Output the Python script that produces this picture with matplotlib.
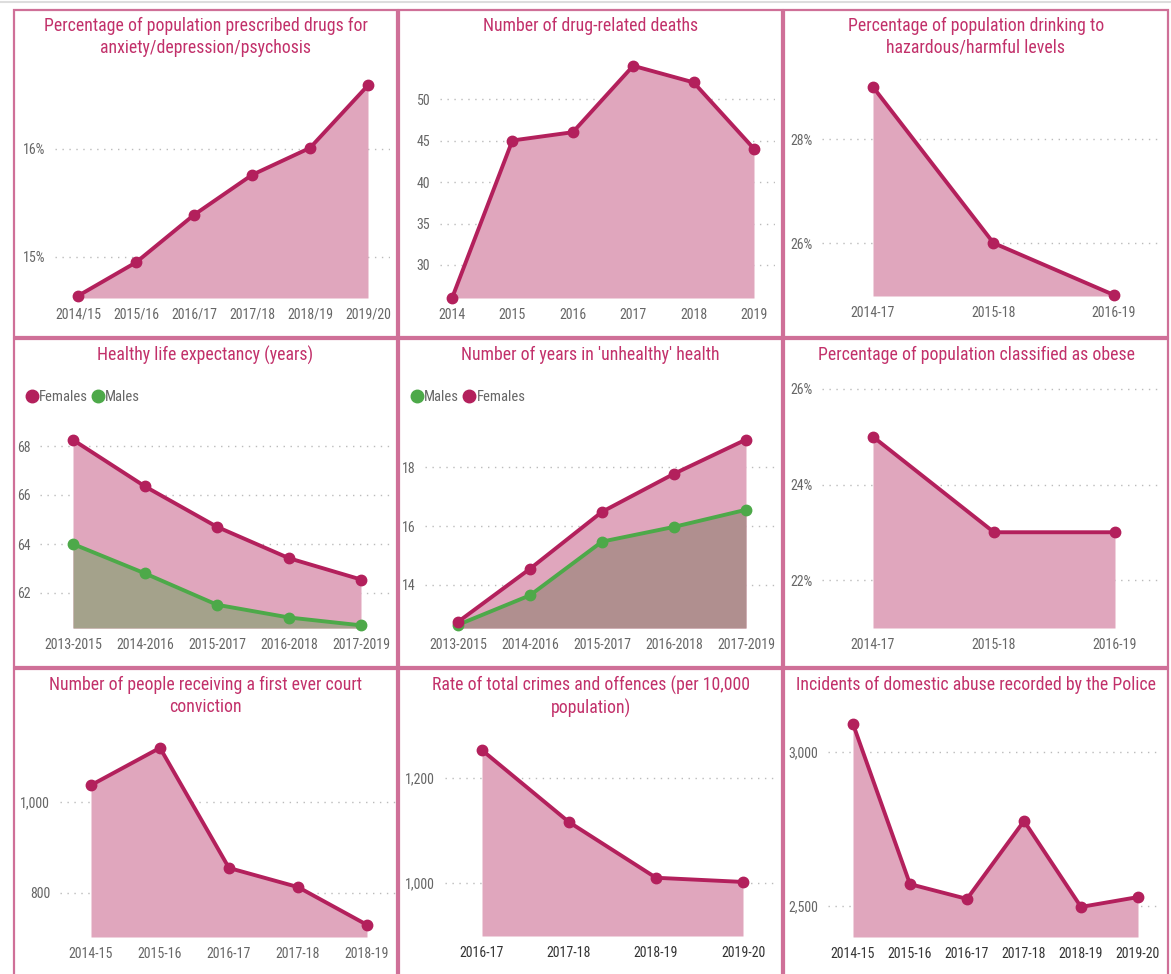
import matplotlib
matplotlib.use("Agg")
import matplotlib.pyplot as plt
from matplotlib import font_manager
from matplotlib.lines import Line2D
from matplotlib.patches import Rectangle

# ---- data ----
drugs_years = ["2014/15", "2015/16", "2016/17", "2017/18", "2018/19", "2019/20"]
drugs_pct = [14.64, 14.95, 15.39, 15.76, 16.01, 16.59]

deaths_years = ["2014", "2015", "2016", "2017", "2018", "2019"]
deaths = [26, 45, 46, 54, 52, 44]

drink_years = ["2014-17", "2015-18", "2016-19"]
drink_pct = [29.0, 26.0, 25.0]

hle_years = ["2013-2015", "2014-2016", "2015-2017", "2016-2018", "2017-2019"]
hle_females = [68.25, 66.35, 64.7, 63.42, 62.55]
hle_males = [64.0, 62.8, 61.52, 61.0, 60.68]

unhealthy_years = ["2013-2015", "2014-2016", "2015-2017", "2016-2018", "2017-2019"]
unhealthy_males = [12.65, 13.65, 15.47, 15.97, 16.55]
unhealthy_females = [12.75, 14.55, 16.48, 17.77, 18.93]

obese_years = ["2014-17", "2015-18", "2016-19"]
obese_pct = [25.0, 23.0, 23.0]

court_years = ["2014-15", "2015-16", "2016-17", "2017-18", "2018-19"]
court = [1037, 1119, 855, 813, 730]

crime_years = ["2016-17", "2017-18", "2018-19", "2019-20"]
crime_rate = [1253, 1116, 1010, 1002]

abuse_years = ["2014-15", "2015-16", "2016-17", "2017-18", "2018-19", "2019-20"]
abuse = [3091, 2571, 2523, 2776, 2497, 2529]

W, H = 1171, 974
LINE = "#B3205C"
FILL = "#E0A6BD"
GREEN = "#4DA949"
TITLE = "#C2306A"
BORDER = "#CF7098"
TICK = "#666666"

# look for a narrow face, the dashboard uses a condensed DIN-like font
narrow = None
for f in font_manager.fontManager.ttflist:
    low = f.fname.lower()
    if ("condensed" in low or "narrow" in low) and f.style == "normal" \
            and not any(w in low for w in ("bold", "light", "thin", "black", "extra", "semi", "medium", "italic")):
        if narrow is None or "roboto" in low or "liberation" in low:
            narrow = f.fname
if narrow:
    fp = font_manager.FontProperties(fname=narrow)
    title_size, tick_size, leg_size = 12.8, 10, 10.5
else:
    fp = font_manager.FontProperties(family="Roboto")
    title_size, tick_size, leg_size = 11.3, 9.2, 9.5

fig = plt.figure(figsize=(W / 100, H / 100), dpi=100)
fig.patch.set_facecolor("white")


def fx(x):
    return x / W


def fy(y):
    return 1 - y / H


def make_ax(box, xfirst, xlast, n, yref, yticks, fmt):
    x0, x1, yt, yb = box
    ax = fig.add_axes([fx(x0), fy(yb), (x1 - x0) / W, (yb - yt) / H])
    step = (xlast - xfirst) / (n - 1)
    ax.set_xlim(-(xfirst - x0) / step, (n - 1) + (x1 - xlast) / step)
    (p1, v1), (p2, v2) = yref
    k = (v1 - v2) / (p2 - p1)
    ax.set_ylim(v2 - (yb - p2) * k, v1 + (p1 - yt) * k)
    ax.set_yticks(yticks)
    ax.set_yticklabels([fmt(v) for v in yticks])
    for s in ax.spines.values():
        s.set_visible(False)
    ax.tick_params(length=0, labelcolor=TICK, pad=7)
    ax.grid(axis="y", linestyle=(0, (1, 4)), color="#BBBBBB", linewidth=1)
    ax.set_axisbelow(True)
    ax.patch.set_alpha(0)
    return ax


def area(ax, labels, values, line=LINE, fill=FILL):
    x = list(range(len(labels)))
    ax.fill_between(x, values, ax.get_ylim()[0], color=fill, linewidth=0, zorder=1)
    ax.plot(x, values, color=line, lw=2.8, marker="o", ms=7.5, zorder=3,
            solid_joinstyle="round", clip_on=False)
    ax.set_xticks(x)
    ax.set_xticklabels(labels)
    for t in ax.get_xticklabels() + ax.get_yticklabels():
        t.set_fontproperties(fp)
        t.set_fontsize(tick_size)


pct = lambda v: "%d%%" % v
num = lambda v: "{:,}".format(int(v))

# panel borders
cols = [(14, 397), (399, 782), (784, 1168)]
rows = [(10, 337), (339, 667), (669, 990)]
for (cx0, cx1) in cols:
    for (ry0, ry1) in rows:
        fig.add_artist(Rectangle((fx(cx0), fy(ry1)), (cx1 - cx0) / W, (ry1 - ry0) / H,
                                 transform=fig.transFigure, fill=False,
                                 edgecolor=BORDER, linewidth=1.6))
fig.add_artist(Line2D([0, 1], [fy(2), fy(2)], transform=fig.transFigure,
                      color="#DDDDDD", linewidth=1.5))


def title(col, y, text):
    cx = (cols[col][0] + cols[col][1]) / 2
    fig.text(fx(cx), fy(y), text, ha="center", va="top", color=TITLE,
             fontproperties=fp, fontsize=title_size, linespacing=1.25)


title(0, 17, "Percentage of population prescribed drugs for\nanxiety/depression/psychosis")
title(1, 17, "Number of drug-related deaths")
title(2, 17, "Percentage of population drinking to\nhazardous/harmful levels")
title(0, 346, "Healthy life expectancy (years)")
title(1, 346, "Number of years in 'unhealthy' health")
title(2, 346, "Percentage of population classified as obese")
title(0, 676, "Number of people receiving a first ever court\nconviction")
title(1, 676, "Rate of total crimes and offences (per 10,000\npopulation)")
title(2, 676, "Incidents of domestic abuse recorded by the Police")

# row 1
ax = make_ax((55, 390, 70, 298), 78, 368, 6, ((149, 16), (257, 15)), [15, 16], pct)
area(ax, drugs_years, drugs_pct)

ax = make_ax((440, 775, 55, 298), 452, 754, 6, ((99, 50), (265, 30)), [30, 35, 40, 45, 50], num)
area(ax, deaths_years, deaths)

ax = make_ax((822, 1162, 75, 296), 873, 1114, 3, ((139, 28), (243, 26)), [26, 28], pct)
area(ax, drink_years, drink_pct)

# row 2
legend_kw = dict(ncol=2, frameon=False, handletextpad=0.0, columnspacing=0.2,
                 handlelength=1.0, borderpad=0, labelcolor=TICK, loc="center left",
                 bbox_transform=fig.transFigure)
leg_prop = fp.copy()
leg_prop.set_size(leg_size)

ax = make_ax((40, 390, 420, 628), 73, 361, 5, ((446, 68), (593, 62)), [62, 64, 66, 68], num)
area(ax, hle_years, hle_females)
area(ax, hle_years, hle_males, line=GREEN, fill="#A4A28B")
ax.legend(handles=[Line2D([], [], ls="", marker="o", ms=9, color=LINE, label="Females"),
                   Line2D([], [], ls="", marker="o", ms=9, color=GREEN, label="Males")],
          bbox_to_anchor=(fx(17), fy(397)), prop=leg_prop, **legend_kw)

ax = make_ax((425, 775, 420, 628), 458, 746, 5, ((467, 18), (585, 14)), [14, 16, 18], num)
area(ax, unhealthy_years, unhealthy_females)
area(ax, unhealthy_years, unhealthy_males, line=GREEN, fill="#B08F8F")
ax.lines[-1].set_zorder(2.5)
ax.legend(handles=[Line2D([], [], ls="", marker="o", ms=9, color=GREEN, label="Males"),
                   Line2D([], [], ls="", marker="o", ms=9, color=LINE, label="Females")],
          bbox_to_anchor=(fx(402), fy(397)), prop=leg_prop, **legend_kw)

ax = make_ax((822, 1160, 370, 628), 873, 1115, 3, ((389, 26), (580, 22)), [22, 24, 26], pct)
area(ax, obese_years, obese_pct)

# row 3
ax = make_ax((60, 398, 730, 937), 91, 367, 5, ((802, 1000), (893, 800)), [800, 1000], num)
area(ax, court_years, court)

ax = make_ax((445, 775, 730, 936), 482, 743, 4, ((778, 1200), (883, 1000)), [1000, 1200], num)
area(ax, crime_years, crime_rate)
for t in ax.get_xticklabels():
    t.set_color("#333333")

ax = make_ax((828, 1160, 700, 937), 853, 1138, 6, ((752, 3000), (906, 2500)), [2500, 3000], num)
area(ax, abuse_years, abuse)
for t in ax.get_xticklabels():
    t.set_color("#333333")

fig.savefig("out.png", dpi=100, facecolor="white")
